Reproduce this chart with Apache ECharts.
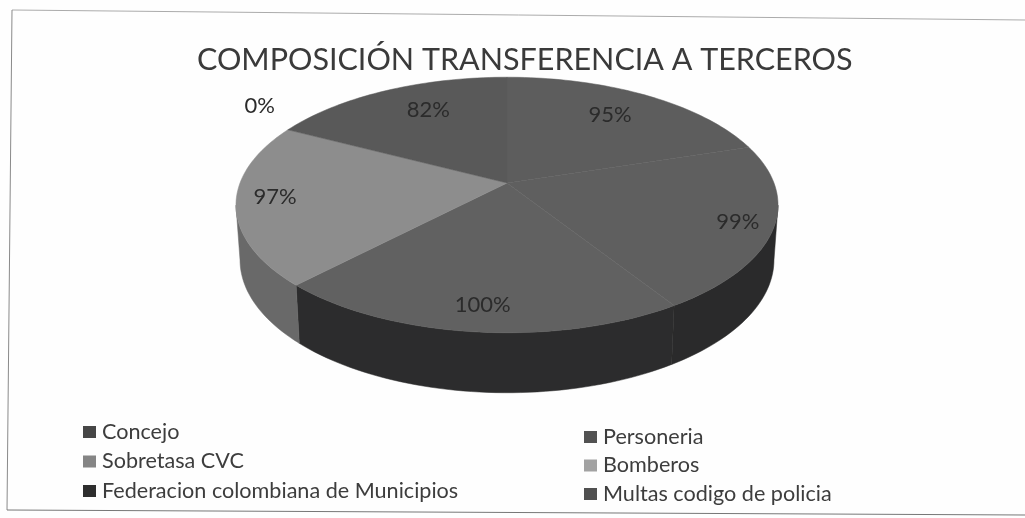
<!DOCTYPE html>
<html><head><meta charset="utf-8">
<style>html,body{margin:0;padding:0;background:#fefefe}#c{width:1025px;height:518px}</style>
<script src="https://cdn.jsdelivr.net/npm/echarts@6/dist/echarts.min.js"></script>
</head><body><div id="c"></div>
<script>
const categories = ['Concejo','Personeria','Sobretasa CVC','Bomberos','Federacion colombiana de Municipios','Multas codigo de policia'];
const values = [95,99,100,97,0,82];
const topColors = ['#5d5d5d','#5f5f5f','#616161','#8d8d8d','#2f2f2f','#595959'];
const sideColors = ['#333333','#2a2a2b','#2c2c2d','#696969','#222222','#333333'];
const legendColors = ['#464646','#525252','#858585','#a2a2a2','#2e2e2e','#505050'];
const leftLegend = ['Concejo','Sobretasa CVC','Federacion colombiana de Municipios'];
const rightLegend = ['Personeria','Bomberos','Multas codigo de policia'];

const FONT = 'Lato';
const total = values.reduce((a,b)=>a+b,0);
const starts = []; { let s = 0; values.forEach(v=>{starts.push(s); s += v/total*360;}); }
const CX=507, CY=183, R=267, B=124, K=0.172, DEPTH=60;
function proj(deg, r){
  const t=deg*Math.PI/180, u=Math.sin(t)*r, v=-Math.cos(t)*r, w=1-K*v;
  return [CX+R*u/w, CY+B*v/w, v];
}
function lower(p){ return [CX+(p[0]-CX)*0.985, p[1]+DEPTH*(0.9+0.1*(p[1]-CY)/150)]; }
function arc(a,b){ const n=Math.max(2,Math.ceil((b-a)/1.5)), out=[]; for(let i=0;i<=n;i++) out.push(proj(a+(b-a)*i/n,1)); return out; }
const labelTune = [[.72,0,-3],[.88,-2,0],[.845,2,0],[.87,3,-4],[1.15,2,-17],[.63,1,-12]];

function renderSlice(i){
  return function(params, api){
    const v = api.value(0), a = starts[i], b = a + v/total*360, children=[];
    const sa=Math.max(a,100), sb=Math.min(b,260);
    if(sb>sa){
      const rim=arc(sa,sb).map(p=>[p[0],p[1]]), bot=arc(sa,sb).map(lower).reverse();
      children.push({type:'polygon',shape:{points:rim.concat(bot)},style:{fill:sideColors[i],stroke:sideColors[i],lineWidth:.5}});
    }
    if(b>a){
      const pts=[[CX,CY]].concat(arc(a,b).map(p=>[p[0],p[1]]));
      children.push({type:'polygon',z2:2,shape:{points:pts},style:{fill:api.visual('color'),stroke:api.visual('color'),lineWidth:.5}});
    }
    const t=labelTune[i], c=proj((a+b)/2,t[0]);
    children.push({type:'text',z2:5,style:{text:v+'%',x:c[0]+t[1],y:c[1]+t[2],align:'center',verticalAlign:'middle',font:'22px '+FONT,fill:'#2b2b2b'}});
    return {type:'group',children};
  };
}
const series = categories.map((name,i)=>({
  name, type:'custom', coordinateSystem:'none', silent:true, z:(i===4?9:3),
  itemStyle:{color:topColors[i]}, data:[[values[i]]], renderItem:renderSlice(i)
}));
const legendItems = names => names.map(n=>({name:n,itemStyle:{color:legendColors[categories.indexOf(n)]}}));
const legendBase = {orient:'vertical',itemWidth:13,itemHeight:12,icon:'rect',
  textStyle:{fontFamily:FONT,fontSize:21.6,color:'#3d3d3d',padding:[0,0,0,1]},selectedMode:false,padding:0};
const chart = echarts.init(document.getElementById('c'),null,{renderer:'canvas'});
chart.setOption({
  animation:false, backgroundColor:'#fefefe',
  title:{text:'COMPOSICIÓN TRANSFERENCIA A TERCEROS',left:197,top:45,padding:0,
    textStyle:{fontFamily:FONT,fontSize:30.5,fontWeight:'normal',color:'#3a3a3a'}},
  legend:[
    Object.assign({},legendBase,{data:legendItems(leftLegend),left:83,top:421,itemGap:7.5}),
    Object.assign({},legendBase,{data:legendItems(rightLegend),left:584,top:426,itemGap:6.5})
  ],
  graphic:[
    {type:'line',silent:true,shape:{x1:12,y1:10,x2:1025,y2:20},style:{stroke:'#ababab',lineWidth:1}},
    {type:'line',silent:true,shape:{x1:12,y1:10,x2:7,y2:510},style:{stroke:'#8a8a8a',lineWidth:1}},
    {type:'line',silent:true,shape:{x1:7,y1:510,x2:1025,y2:515},style:{stroke:'#777777',lineWidth:1}}
  ],
  series
});
</script></body></html>
